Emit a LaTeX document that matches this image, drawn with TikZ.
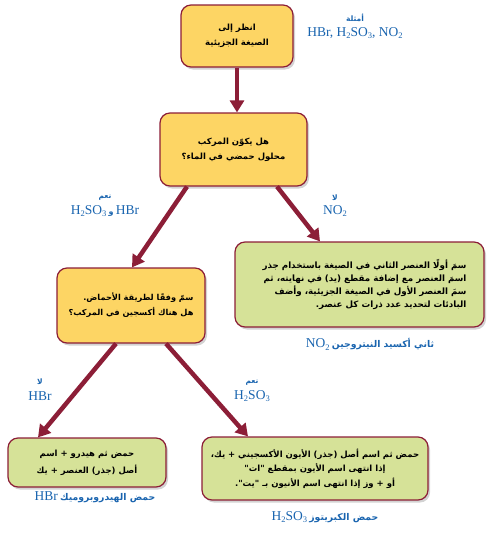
\documentclass[tikz,border=0pt]{standalone}
\usepackage{fontspec}
\setmainfont{Liberation Serif}
\newfontfamily\arabicfont[Script=Arabic]{DejaVu Sans}
\TeXXeTstate=1
\usetikzlibrary{arrows.meta,shadows,calc}
\definecolor{boxred}{RGB}{140,30,55}
\definecolor{yel}{RGB}{253,213,100}
\definecolor{grn}{RGB}{214,226,152}
\definecolor{blu}{RGB}{25,100,175}
\newcommand{\csub}[1]{\raisebox{-0.45ex}{\fontsize{8.5}{9}\selectfont #1}}
\newcommand{\artxt}[1]{{\arabicfont\bfseries\beginR #1\endR}}
\begin{document}
\begin{tikzpicture}[x=1pt,y=-1pt,
  box/.style={draw=boxred, line width=1.2pt, rounded corners=10pt,
    drop shadow={shadow xshift=2pt, shadow yshift=-2.5pt, opacity=0.35},
    inner sep=0pt, align=center,
    font=\arabicfont\bfseries\fontsize{8.5}{15}\selectfont},
  ybox/.style={box, fill=yel},
  gbox/.style={box, fill=grn},
  arr/.style={draw=boxred, line width=4.5pt, -{Triangle[length=12pt,width=14pt]}},
  lab/.style={text=blu, inner sep=0pt, font=\fontsize{13.5}{15}\selectfont},
  slab/.style={text=blu, inner sep=0pt, font=\arabicfont\bfseries\fontsize{7.5}{8}\selectfont},
  blab/.style={text=blu, inner sep=0pt, font=\fontsize{13.5}{15}\selectfont}
]
\useasboundingbox (0,0) rectangle (494,533);

% boxes
\node[ybox, minimum width=112pt, minimum height=62pt] (b1) at (237,36)
  {\beginR انظر إلى\endR\\\beginR الصيغة الجزيئية\endR};
\node[ybox, minimum width=147pt, minimum height=73pt] (b2) at (233.5,149.5)
  {\beginR هل يكوّن المركب\endR\\\beginR محلول حمضي في الماء؟\endR};
\node[gbox, minimum width=249pt, minimum height=85pt, align=right,
  font=\arabicfont\bfseries\fontsize{8.7}{12.8}\selectfont] (b3) at (359.5,284.5)
  {\hspace*{10pt}\beginR سمَ أولًا العنصر الثاني في الصيغة باستخدام جذر\endR\\
   \beginR اسمَ العنصر مع إضافة مقطع (يد) في نهايته، ثم\endR\\
   \beginR سمَ العنصر الأول في الصيغة الجزيئية، وأضف\endR\\
   \beginR البادئات لتحديد عدد ذرات كل عنصر.\endR};
\node[ybox, minimum width=148pt, minimum height=75pt, align=right,
  font=\arabicfont\bfseries\fontsize{8.2}{15}\selectfont] (b4) at (131,305.5)
  {\beginR سمّ وفقًا لطريقة الأحماض.\endR\\\beginR هل هناك أكسجين في المركب؟\endR};
\node[gbox, minimum width=158pt, minimum height=49pt,
  font=\arabicfont\bfseries\fontsize{8.5}{17}\selectfont] (b5) at (87,462.5)
  {\beginR حمض ثم هيدرو + اسم\endR\\\beginR أصل (جذر) العنصر + يك\endR};
\node[gbox, minimum width=226pt, minimum height=63pt,
  font=\arabicfont\bfseries\fontsize{8.5}{14.5}\selectfont] (b6) at (315,468.5)
  {\beginR حمض ثم اسم أصل (جذر) الأيون الأكسجيني + يك،\endR\\
   \beginR إذا انتهى اسم الأيون بمقطع "ات"\endR\\
   \beginR أو + وز إذا انتهى اسم الأنيون بـ "يت".\endR};

% arrows
\draw[arr] (b1.south) -- (b1.south |- b2.north);
\draw[arr] ([xshift=-46.5pt]b2.south) -- ([xshift=1pt]b4.north);
\draw[arr] ([xshift=43.5pt]b2.south) -- ([xshift=-39.5pt]b3.north);
\draw[arr] ([xshift=-15pt]b4.south) -- ([xshift=-49pt]b5.north);
\draw[arr] ([xshift=35pt]b4.south) -- ([xshift=-67pt]b6.north);

% labels
\node[slab] (exh) at (355,18) {\beginR أمثلة\endR};
\node[lab] (ex) at (355,33) {HBr, H\csub{2}SO\csub{3}, NO\csub{2}};
\node[slab] (y1h) at (105,198) {\beginR نعم\endR};
\node[lab] (y1) at (105,211) {H\csub{2}SO\csub{3}\,\artxt{\fontsize{8}{9}\selectfont و}\,HBr};
\node[slab] (n1h) at (335,198) {\beginR لا\endR};
\node[lab] (n1) at (335,211) {NO\csub{2}};
\node[slab] (n2h) at (40,382) {\beginR لا\endR};
\node[lab] (n2) at (40,396) {HBr};
\node[slab] (y2h) at (252,383) {\beginR نعم\endR};
\node[lab] (y2) at (252,396) {H\csub{2}SO\csub{3}};

\node[blab] (r3) at (370,344) {NO\csub{2}\,\artxt{\fontsize{9.3}{10}\selectfont ثاني أكسيد النيتروجين}};
\node[blab] (r5) at (95,497) {HBr\,\artxt{\fontsize{9.3}{10}\selectfont حمض الهيدروبروميك}};
\node[blab] (r6) at (325,517) {H\csub{2}SO\csub{3}\,\artxt{\fontsize{9.3}{10}\selectfont حمض الكبريتوز}};
\end{tikzpicture}
\end{document}
